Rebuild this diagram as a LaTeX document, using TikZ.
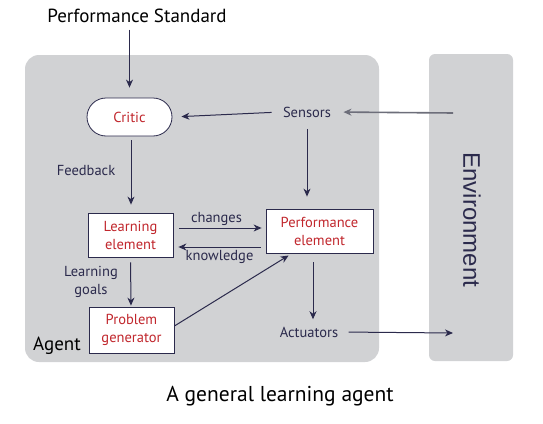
\documentclass[tikz,border=0pt]{standalone}
\usepackage{fontspec}
\setmainfont{PT Sans}
\newfontfamily\envfont{Liberation Sans}
\usepackage{tikz}
\usetikzlibrary{arrows.meta}
\definecolor{agentgray}{HTML}{D1D2D4}
\definecolor{inkblue}{HTML}{2B2A4C}
\definecolor{boxred}{HTML}{C1272D}
\definecolor{envline}{HTML}{6D6E7A}
\begin{document}
\begin{tikzpicture}[x=1pt, y=-1pt, >={Stealth[length=8pt, width=7pt, inset=2.5pt]}, line width=1pt,
	lbl/.style={text=inkblue, font=\fontsize{14.5}{17}\selectfont, inner sep=2pt},
	element/.style={draw=inkblue, line width=0.8pt, fill=white, text=boxred, align=center,
		font=\fontsize{14.5}{18}\selectfont, inner sep=0pt, minimum height=44pt},
	flow/.style={->, draw=inkblue}]
\useasboundingbox (0, 0) rectangle (543, 423);
\fill[agentgray, rounded corners=14pt] (25, 55) rectangle (379, 362);
\fill[agentgray, rounded corners=6pt] (429, 54) rectangle (513, 361);
\node[text=black, font=\fontsize{19}{20}\selectfont] (standard) at (137, 16) {Performance Standard};
\node[draw=inkblue, line width=0.8pt, fill=white, text=boxred, rounded corners=19pt, minimum width=85pt,
	minimum height=38pt, font=\fontsize{14.5}{17}\selectfont] (critic) at (129.5, 117) {Critic};
\node[lbl] (sensors) at (307, 112) {Sensors};
\node[element, minimum width=85pt] (learn) at (130.5, 235) {Learning\\element};
\node[element, minimum width=107pt] (perf) at (319.5, 231) {Performance\\element};
\node[element, minimum width=85pt, minimum height=46pt] (prob) at (131.5, 330) {Problem\\generator};
\node[lbl] (actuators) at (309, 332) {Actuators};
\node[lbl] (feedback) at (86, 171) {Feedback};
\node[lbl, align=center, font=\fontsize{14.5}{18}\selectfont] (goals) at (91, 282) {Learning\\goals};
\node[text=black, font=\fontsize{19}{20}\selectfont] (agent) at (57, 346) {Agent};
\node[text=inkblue, rotate=-90, font=\envfont\fontsize{24}{25}\selectfont] (env) at (472, 220) {Environment};
\node[text=black, font=\fontsize{21.5}{23}\selectfont] (caption) at (280, 396) {A general learning agent};
\coordinate (envin) at (453, 113);
\coordinate (envout) at (453, 333);
\draw[flow, shorten <=3pt, shorten >=10pt] (standard.south -| critic.north) -- (critic.north);
\draw[flow, shorten <=9pt, shorten >=9pt] (sensors.west) -- (critic.east);
\draw[->, draw=envline, line width=1.6pt, shorten >=10pt] (envin) -- (sensors.east);
\draw[flow, shorten <=4pt, shorten >=8pt] ([xshift=1.5pt]critic.south) -- ([xshift=0.5pt]learn.north);
\draw[flow, shorten <=9pt, shorten >=12pt] (sensors.south) -- (sensors.south |- perf.north);
\draw[flow, shorten <=6pt, shorten >=4pt] ([yshift=7pt]learn.east) -- ([yshift=3pt]perf.west)
	node[lbl, midway, above, xshift=-3pt] (changes) {changes};
\draw[flow, shorten <=5pt, shorten >=5pt] ([yshift=-16pt]perf.west) -- ([yshift=-12pt]learn.east)
	node[lbl, midway, below, yshift=-1pt] (knowledge) {knowledge};
\draw[flow, shorten <=5pt, shorten >=1pt] (learn.south) -- ([xshift=-0.5pt]prob.north);
\draw[flow, shorten >=4pt] ([yshift=4pt]prob.east) -- ([xshift=-27.5pt]perf.south);
\draw[flow, shorten <=9pt, shorten >=5pt] ([xshift=-6.5pt]perf.south) -- ([xshift=-6.5pt]perf.south |- actuators.north);
\draw[flow, shorten <=8pt] (actuators.east) -- (envout);
\end{tikzpicture}
\end{document}
